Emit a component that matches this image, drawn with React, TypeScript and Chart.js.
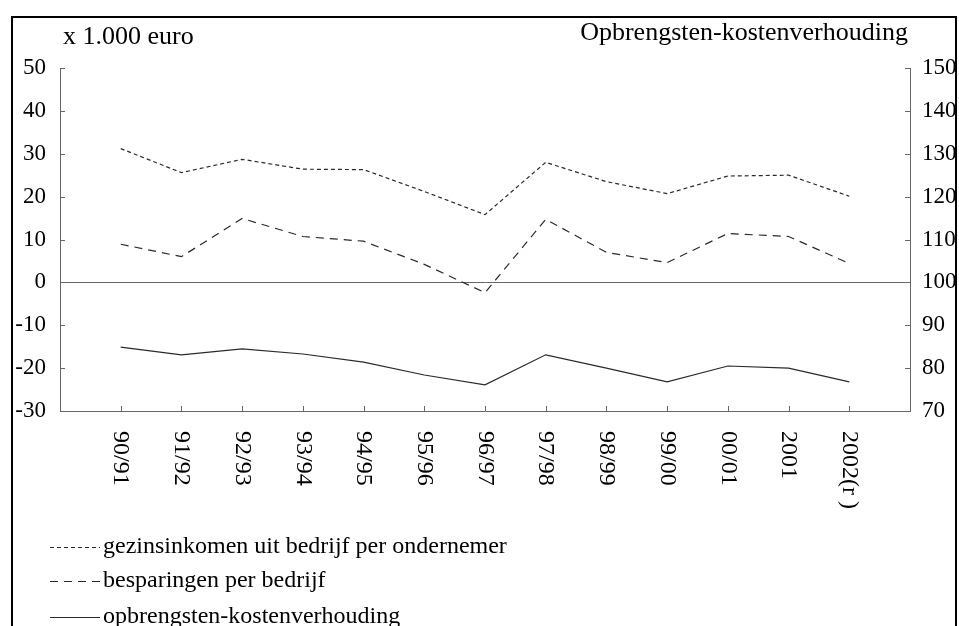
import React, { useEffect, useRef } from "react";
import { Chart, registerables } from "chart.js";

Chart.register(...registerables);

const categories = ["90/91", "91/92", "92/93", "93/94", "94/95", "95/96", "96/97", "97/98", "98/99", "99/00", "00/01", "2001", "2002(r )"];
const gezinsinkomen = [31.2, 25.6, 28.7, 26.4, 26.3, 21.2, 15.8, 28.0, 23.5, 20.7, 24.8, 25.0, 20.1];
const besparingen = [8.9, 6.0, 14.9, 10.7, 9.6, 4.2, -2.4, 14.7, 7.0, 4.6, 11.4, 10.7, 4.4];
const opbrengstenKosten = [84.9, 83.1, 84.5, 83.3, 81.4, 78.4, 76.1, 83.1, 80.0, 76.8, 80.5, 80.0, 76.8];
const leftTicks = { min: -30, max: 50, step: 10 };
const rightTicks = { min: 70, max: 150, step: 10 };
const seriesNames = ["gezinsinkomen uit bedrijf per ondernemer", "besparingen per bedrijf", "opbrengsten-kostenverhouding"];
const leftTitle = "x 1.000 euro";
const rightTitle = "Opbrengsten-kostenverhouding";

const FONT = "Liberation Serif, Times New Roman, serif";
const LINE = "#2a2a2a";
const AXIS = "#666";
const dashes = [[4, 3], [8, 6], []];

export default function App() {
  const ref = useRef<HTMLCanvasElement | null>(null);
  useEffect(() => {
    if (!ref.current) return;
    const pts = (arr: number[]) => arr.map((v, i) => ({ x: i, y: v }));
    const decor = {
      id: "decor",
      afterDraw(chart: any) {
        const ctx = chart.ctx as CanvasRenderingContext2D;
        const x = chart.scales.x;
        const yl = chart.scales.y;
        const yr = chart.scales.y2;
        const area = chart.chartArea;
        ctx.save();
        // frame
        ctx.strokeStyle = "#000";
        ctx.lineWidth = 2;
        ctx.strokeRect(12, 17, 944, 700);
        // titles
        ctx.fillStyle = "#000";
        ctx.font = `26px ${FONT}`;
        ctx.textBaseline = "middle";
        ctx.textAlign = "left";
        ctx.fillText(leftTitle, 63, 37);
        ctx.textAlign = "right";
        ctx.fillText(rightTitle, 908, 33);
        // inside ticks
        ctx.strokeStyle = AXIS;
        ctx.lineWidth = 1;
        ctx.setLineDash([]);
        ctx.beginPath();
        for (let v = leftTicks.min; v <= leftTicks.max; v += leftTicks.step) {
          const py = Math.round(yl.getPixelForValue(v)) + 0.5;
          ctx.moveTo(area.left, py);
          ctx.lineTo(area.left + 5, py);
        }
        for (let v = rightTicks.min; v <= rightTicks.max; v += rightTicks.step) {
          const py = Math.round(yr.getPixelForValue(v)) + 0.5;
          ctx.moveTo(area.right, py);
          ctx.lineTo(area.right - 5, py);
        }
        categories.forEach((_, i) => {
          const px = Math.round(x.getPixelForValue(i)) + 0.5;
          ctx.moveTo(px, area.bottom);
          ctx.lineTo(px, area.bottom - 5);
        });
        ctx.stroke();
        // x labels rotated clockwise
        ctx.fillStyle = "#000";
        ctx.font = `24px ${FONT}`;
        categories.forEach((c, i) => {
          const px = x.getPixelForValue(i);
          ctx.save();
          ctx.translate(px, area.bottom + 20);
          ctx.rotate(Math.PI / 2);
          ctx.textAlign = "left";
          ctx.textBaseline = "middle";
          ctx.fillText(c, 0, 0);
          ctx.restore();
        });
        // legend
        const rows = [547, 581, 617];
        seriesNames.forEach((name, i) => {
          const ly = rows[i];
          ctx.strokeStyle = LINE;
          ctx.lineWidth = 1;
          ctx.setLineDash(dashes[i]);
          ctx.beginPath();
          ctx.moveTo(50, ly + 0.5);
          ctx.lineTo(100, ly + 0.5);
          ctx.stroke();
          ctx.setLineDash([]);
          ctx.textAlign = "left";
          ctx.textBaseline = "middle";
          ctx.fillText(name, 103, ly);
        });
        ctx.restore();
      },
    };
    const chart = new Chart(ref.current, {
      type: "line",
      data: {
        datasets: [
          { label: seriesNames[0], data: pts(gezinsinkomen), yAxisID: "y", borderColor: LINE, borderWidth: 1.2, borderDash: dashes[0], pointRadius: 0, tension: 0 },
          { label: seriesNames[1], data: pts(besparingen), yAxisID: "y", borderColor: LINE, borderWidth: 1.2, borderDash: dashes[1], pointRadius: 0, tension: 0 },
          { label: seriesNames[2], data: pts(opbrengstenKosten), yAxisID: "y2", borderColor: LINE, borderWidth: 1.2, pointRadius: 0, tension: 0 },
        ],
      },
      options: {
        animation: false,
        responsive: false,
        devicePixelRatio: 1,
        layout: { padding: { top: 68, left: 0, right: 0, bottom: 0 } },
        plugins: { legend: { display: false }, tooltip: { enabled: false } },
        scales: {
          x: {
            type: "linear",
            min: -1,
            max: categories.length,
            ticks: { display: false },
            grid: { display: false, drawTicks: false },
            border: { display: true, color: AXIS, width: 1 },
            afterFit: (s: any) => { s.height = 215; },
          },
          y: {
            position: "left",
            min: leftTicks.min,
            max: leftTicks.max,
            ticks: { stepSize: leftTicks.step, color: "#000", font: { family: FONT, size: 23 }, padding: 14 },
            grid: {
              drawTicks: false,
              color: (c: any) => (c.tick && c.tick.value === 0 ? AXIS : "rgba(0,0,0,0)"),
            },
            border: { display: true, color: AXIS, width: 1 },
            afterFit: (s: any) => { s.width = 60; },
          },
          y2: {
            position: "right",
            min: rightTicks.min,
            max: rightTicks.max,
            ticks: { stepSize: rightTicks.step, color: "#000", font: { family: FONT, size: 23 }, padding: 12 },
            grid: { display: false, drawTicks: false },
            border: { display: true, color: AXIS, width: 1 },
            afterFit: (s: any) => { s.width = 49; },
          },
        },
      },
      plugins: [decor],
    } as any);
    return () => chart.destroy();
  }, []);
  return (
    <div style={{ position: "absolute", left: 0, top: 0, width: 959, height: 626, background: "#fff" }}>
      <canvas ref={ref} width={959} height={626} style={{ display: "block" }} />
    </div>
  );
}
